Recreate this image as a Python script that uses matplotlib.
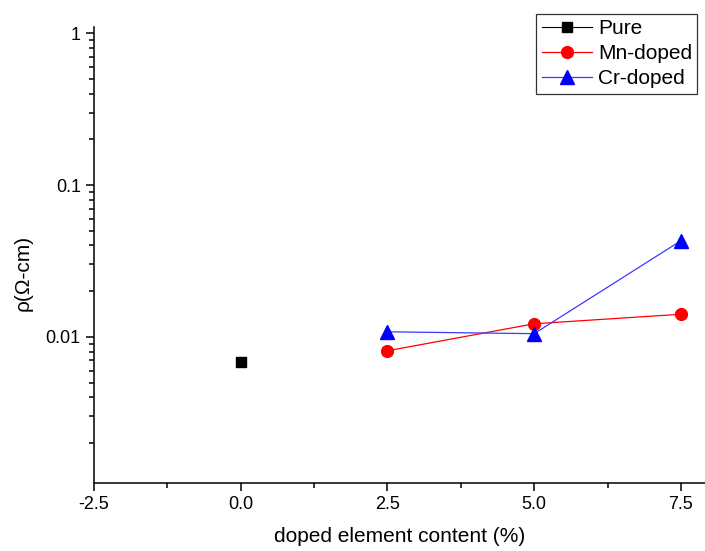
import matplotlib.pyplot as plt
import numpy as np
from matplotlib.ticker import FixedLocator, LogLocator, NullFormatter

plt.rcParams['font.family'] = ['Liberation Sans', 'DejaVu Sans']

# resistivity vs doping content
pure_x = [0.0]
pure_rho = [0.0068]

mn_x = [2.5, 5.0, 7.5]
mn_rho = [0.0081, 0.0122, 0.0141]

cr_x = [2.5, 5.0, 7.5]
cr_rho = [0.0108, 0.0105, 0.043]

xticks = [-2.5, 0.0, 2.5, 5.0, 7.5]
xtick_labels = ["-2.5", "0.0", "2.5", "5.0", "7.5"]

fig = plt.figure(figsize=(7.05, 5.51), dpi=100)
ax = fig.add_axes([0.1333, 0.1234, 0.8667, 0.8276])

ax.plot(pure_x, pure_rho, color="black", marker="s", markersize=7, lw=0.8, label="Pure")
ax.plot(mn_x, mn_rho, color="red", marker="o", markersize=8.5, lw=0.9, label="Mn-doped")
ax.plot(cr_x, cr_rho, color="#3a3aff", marker="^", markersize=9.5, lw=0.9,
        markerfacecolor="blue", markeredgecolor="blue", label="Cr-doped")

ax.set_yscale("log")
ax.set_ylim(0.00109, 1.1)
ax.set_xlim(-2.5, 7.91)

ax.set_xticks(xticks)
ax.set_xticklabels(xtick_labels)
ax.xaxis.set_minor_locator(FixedLocator([-1.25, 1.25, 3.75, 6.25]))
ax.yaxis.set_major_locator(FixedLocator([0.01, 0.1, 1]))
ax.set_yticklabels(["0.01", "0.1", "1"])
ax.yaxis.set_minor_locator(LogLocator(base=10, subs=np.arange(2, 10)))
ax.yaxis.set_minor_formatter(NullFormatter())

for s in ["top", "right"]:
    ax.spines[s].set_visible(False)
for s in ["left", "bottom"]:
    ax.spines[s].set_linewidth(1.1)

ax.tick_params(which="major", direction="out", length=6, width=1.1, labelsize=13)
ax.tick_params(which="minor", direction="out", length=3.5, width=1.1)

ax.set_xlabel("doped element content (%)", fontsize=15, labelpad=10)
ax.set_ylabel("ρ(Ω-cm)", fontsize=15)
ax.yaxis.set_label_coords(-0.1, 0.46)

leg = fig.legend(loc="upper right", bbox_to_anchor=(0.989, 0.975), fontsize=15,
                 frameon=True, fancybox=False, edgecolor="black",
                 handlelength=2.4, handletextpad=0.3, borderpad=0.25,
                 labelspacing=0.3, borderaxespad=0.0)
leg.get_frame().set_linewidth(0.9)

fig.savefig("out.png", dpi=100)
